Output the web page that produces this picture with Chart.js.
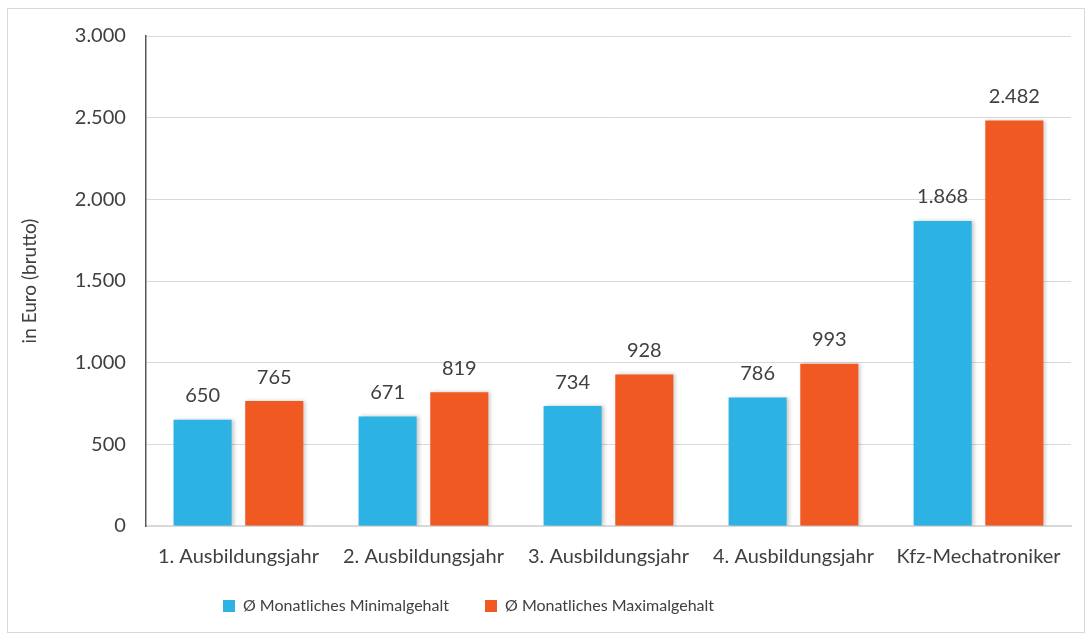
<!DOCTYPE html>
<html>
<head>
<meta charset="utf-8">
<script src="https://cdn.jsdelivr.net/npm/chart.js@4"></script>
<style>
  body { margin: 0; background: #fff; }
  #rahmen { position: absolute; left: 7px; top: 8px; width: 1076px; height: 623px; border: 1px solid #d9d9d9; }
</style>
</head>
<body>
<div id="rahmen"><canvas id="myChart" width="1076" height="623"></canvas></div>
<script>
const kategorien = ['1. Ausbildungsjahr', '2. Ausbildungsjahr', '3. Ausbildungsjahr', '4. Ausbildungsjahr', 'Kfz-Mechatroniker'];
const minimalGehalt = [650, 671, 734, 786, 1868];
const maximalGehalt = [765, 819, 928, 993, 2482];
const yTicks = [0, 500, 1000, 1500, 2000, 2500, 3000];

function formatDe(n) {
    return String(n).replace(/\B(?=(\d{3})+(?!\d))/g, '.');
}

// Werte über den Balken
const wertePlugin = {
    id: 'werte',
    afterDatasetsDraw(chart) {
        const ctx = chart.ctx;
        ctx.save();
        ctx.font = '20px Lato';
        ctx.fillStyle = '#404040';
        ctx.textAlign = 'center';
        ctx.textBaseline = 'bottom';
        chart.data.datasets.forEach((ds, i) => {
            chart.getDatasetMeta(i).data.forEach((bar, j) => {
                ctx.fillText(formatDe(ds.data[j]), bar.x, bar.y - 14);
            });
        });
        ctx.restore();
    }
};

// leichter Schatten an den Balken
const schattenPlugin = {
    id: 'schatten',
    beforeDatasetsDraw(chart) {
        const ctx = chart.ctx;
        ctx.save();
        ctx.shadowColor = 'rgba(0,0,0,0.22)';
        ctx.shadowBlur = 4;
        ctx.shadowOffsetX = 2;
    },
    afterDatasetsDraw(chart) {
        chart.ctx.restore();
    }
};

// Legende näher an die Achse rücken und etwas nach links
const legendePlugin = {
    id: 'legendeLage',
    beforeLayout(chart) {
        const lg = chart.legend;
        if (lg && !lg._gekuerzt) {
            const fit = lg.fit;
            lg.fit = function () { fit.call(this); this.height -= 20; };
            lg.draw = function () { if (this.options.display) this._draw(); };
            lg._gekuerzt = true;
        }
    },
    afterLayout(chart) {
        const lg = chart.legend;
        lg.top -= 18; lg.bottom -= 18;
        lg.left -= 74; lg.right -= 74;
    }
};

const config = {
    type: 'bar',
    data: {
        labels: kategorien,
        datasets: [{
            label: 'Ø Monatliches Minimalgehalt',
            data: minimalGehalt,
            backgroundColor: '#2cb3e3'
        }, {
            label: 'Ø Monatliches Maximalgehalt',
            data: maximalGehalt,
            backgroundColor: '#f05a22'
        }]
    },
    options: {
        responsive: false,
        animation: false,
        layout: { padding: { top: 27, right: 13, left: 6, bottom: 10 } },
        datasets: { bar: { categoryPercentage: 0.775, barPercentage: 0.81 } },
        plugins: {
            legend: {
                position: 'bottom',
                labels: {
                    boxWidth: 12, boxHeight: 12, padding: 36,
                    color: '#404040',
                    font: { family: 'Lato', size: 16 }
                }
            },
            tooltip: { enabled: false }
        },
        scales: {
            x: {
                grid: { display: false },
                border: { color: '#d9d9d9', width: 2 },
                ticks: { color: '#404040', font: { family: 'Lato', size: 20 }, padding: 11, maxRotation: 0 }
            },
            y: {
                min: 0, max: 3000,
                afterBuildTicks: axis => { axis.ticks = yTicks.map(v => ({ value: v })); },
                afterFit: axis => { axis.paddingTop = 0; },
                grid: { color: '#d9d9d9', drawTicks: false },
                border: { color: '#595959', width: 1.5 },
                ticks: { color: '#404040', font: { family: 'Lato', size: 20 }, padding: 20, callback: v => formatDe(v) },
                title: { display: true, text: 'in Euro (brutto)', color: '#404040', font: { family: 'Lato', size: 19 }, padding: { bottom: 14 } }
            }
        }
    },
    plugins: [schattenPlugin, wertePlugin, legendePlugin]
};

const myChart = new Chart(document.getElementById('myChart'), config);
</script>
</body>
</html>
